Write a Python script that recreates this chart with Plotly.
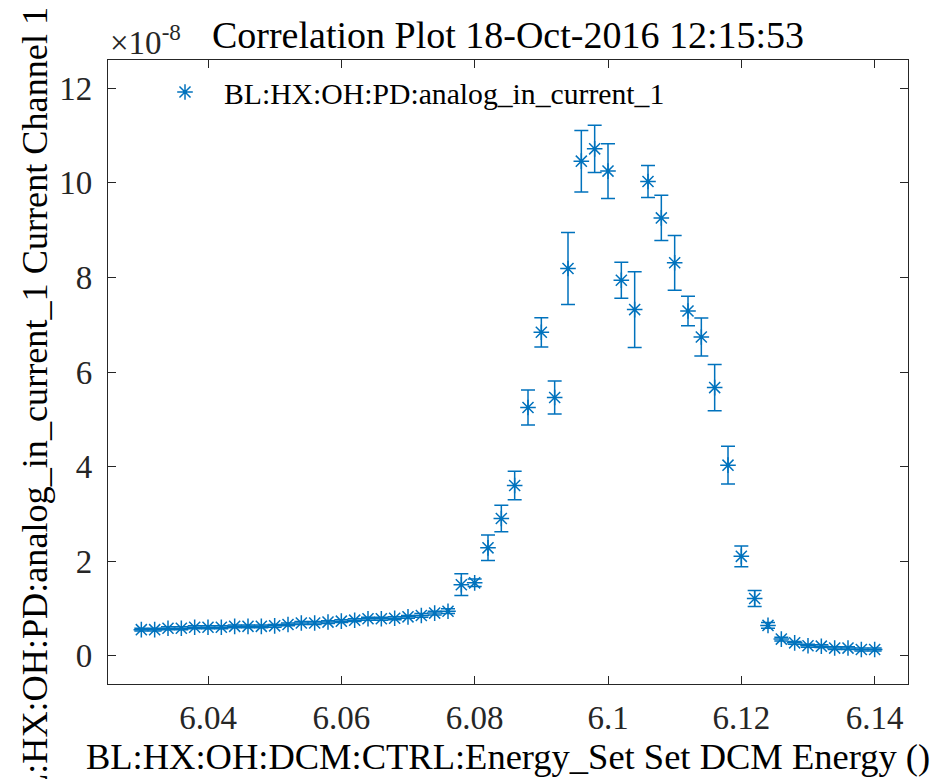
import plotly.graph_objects as go

energy = [6.030, 6.032, 6.034, 6.036, 6.038, 6.040, 6.042, 6.044, 6.046, 6.048,
          6.050, 6.052, 6.054, 6.056, 6.058, 6.060, 6.062, 6.064, 6.066, 6.068,
          6.070, 6.072, 6.074, 6.076, 6.078, 6.080, 6.082, 6.084, 6.086, 6.088,
          6.090, 6.092, 6.094, 6.096, 6.098, 6.100, 6.102, 6.104, 6.106, 6.108,
          6.110, 6.112, 6.114, 6.116, 6.118, 6.120, 6.122, 6.124, 6.126, 6.128,
          6.130, 6.132, 6.134, 6.136, 6.138, 6.140]

# current in units of 1e-8
current = [0.55, 0.55, 0.58, 0.58, 0.60, 0.60, 0.60, 0.62, 0.62, 0.62,
           0.63, 0.66, 0.69, 0.69, 0.71, 0.73, 0.75, 0.78, 0.78, 0.79,
           0.82, 0.85, 0.90, 0.94, 1.50, 1.54, 2.28, 2.90, 3.60, 5.25,
           6.84, 5.46, 8.19, 10.46, 10.72, 10.25, 7.94, 7.32, 10.03, 9.26,
           8.31, 7.29, 6.74, 5.67, 4.03, 2.10, 1.21, 0.64, 0.35, 0.27,
           0.21, 0.20, 0.16, 0.16, 0.13, 0.13]

error = [0.03, 0.03, 0.03, 0.03, 0.03, 0.03, 0.03, 0.03, 0.03, 0.03,
         0.03, 0.03, 0.03, 0.03, 0.03, 0.03, 0.03, 0.03, 0.03, 0.03,
         0.03, 0.04, 0.04, 0.05, 0.23, 0.08, 0.27, 0.28, 0.30, 0.37,
         0.31, 0.35, 0.76, 0.65, 0.50, 0.58, 0.38, 0.80, 0.34, 0.48,
         0.58, 0.31, 0.40, 0.49, 0.40, 0.22, 0.17, 0.06, 0.04, 0.03,
         0.03, 0.03, 0.03, 0.03, 0.03, 0.03]

x_ticks = [6.04, 6.06, 6.08, 6.10, 6.12, 6.14]
x_tick_labels = ["6.04", "6.06", "6.08", "6.1", "6.12", "6.14"]
y_ticks = [0, 2, 4, 6, 8, 10, 12]
y_tick_labels = ["0", "2", "4", "6", "8", "10", "12"]

x_title = "BL:HX:OH:DCM:CTRL:Energy_Set Set DCM Energy ()"
y_title = "BL:HX:OH:PD:analog_in_current_1 Current Channel 1"

blue = "#0072BD"
axcol = "#262626"
font = "Liberation Serif"

fig = go.Figure()
fig.add_trace(go.Scatter(
    x=energy, y=current, mode="markers",
    name="BL:HX:OH:PD:analog_in_current_1",
    marker=dict(symbol="asterisk-open", size=13, color=blue,
                line=dict(color=blue, width=1.5)),
    error_y=dict(type="data", array=error, visible=True, color=blue,
                 thickness=1.5, width=7),
))

fig.update_layout(
    width=951, height=779,
    margin=dict(l=108, r=43, t=60, b=95),
    paper_bgcolor="white", plot_bgcolor="white",
    font=dict(family=font, size=33, color=axcol),
    title=dict(text="Correlation Plot 18-Oct-2016 12:15:53",
               x=0.5, xanchor="center", xref="paper",
               y=1 - 35 / 779, yanchor="middle",
               font=dict(family=font, size=38, color="black")),
    showlegend=True,
    legend=dict(x=0.0475, y=0.99, xanchor="left", yanchor="top",
                bgcolor="rgba(0,0,0,0)", borderwidth=0,
                font=dict(family=font, size=29.7, color="black"),
                itemwidth=68),
    xaxis=dict(range=[6.025, 6.145], tickvals=x_ticks, ticktext=x_tick_labels,
               ticks="inside", ticklen=8, tickwidth=1.2, tickcolor=axcol,
               showline=True, linecolor=axcol, linewidth=1.2, mirror="ticks",
               showgrid=False, zeroline=False, ticklabelstandoff=4,
               tickfont=dict(family=font, size=33, color=axcol),
               title=dict(text=x_title,
                          font=dict(family=font, size=36.5, color="black"),
                          standoff=4)),
    yaxis=dict(range=[-0.6, 12.6], tickvals=y_ticks, ticktext=y_tick_labels,
               ticks="inside", ticklen=8, tickwidth=1.2, tickcolor=axcol,
               showline=True, linecolor=axcol, linewidth=1.2, mirror="ticks",
               showgrid=False, zeroline=False, ticklabelstandoff=8,
               tickfont=dict(family=font, size=33, color=axcol)),
)

# y-axis label (placed as in the reference, partly running past the figure edges)
fig.add_annotation(text=y_title, xref="paper", yref="paper",
                   x=(35 - 108) / 800, y=(684 - 414) / 624,
                   xanchor="center", yanchor="middle", textangle=-90,
                   showarrow=False,
                   font=dict(family=font, size=36.2, color="black"))

fig.add_annotation(text="×10<sup>-8</sup>", xref="paper", yref="paper",
                   x=0, y=1, xanchor="left", yanchor="bottom", yshift=-3,
                   showarrow=False,
                   font=dict(family=font, size=33, color=axcol))

fig.write_html("out.html")
